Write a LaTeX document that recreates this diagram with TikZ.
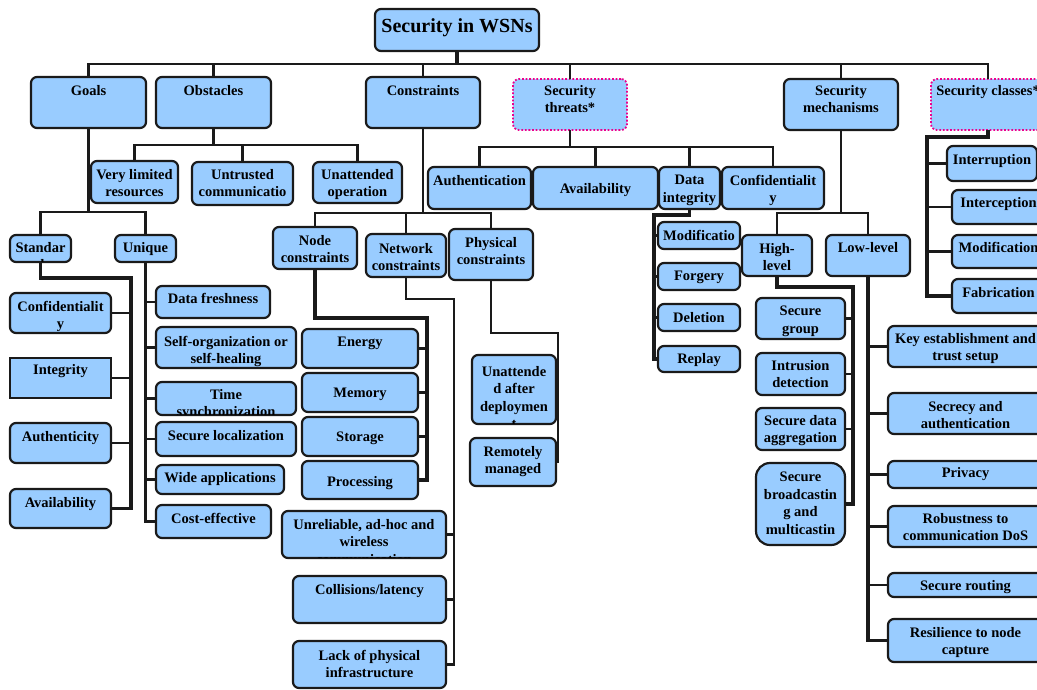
\documentclass[tikz,border=0pt]{standalone}
\usepackage{fontspec}
\setmainfont{Liberation Serif}
\usepackage{xcolor}
\usepackage{tikz}
\usetikzlibrary{fit,positioning}
\definecolor{boxblue}{HTML}{99CCFF}
\definecolor{edge}{HTML}{1A1A1A}

\begin{document}
\begin{tikzpicture}[x=1pt,y=-1pt,
    blk/.style={draw=edge,fill=boxblue,line width=2.2pt,rounded corners=6pt,inner sep=0pt,outer sep=0pt},
    sq/.style={blk,rounded corners=0pt},
    big/.style={blk,rounded corners=14pt},
    thr/.style={blk,draw=magenta,line width=1.8pt,dash pattern=on 1.8pt off 1.8pt},
    lbl/.style={font=\fontsize{14.5}{17.5}\selectfont\bfseries,align=center,inner sep=0pt,anchor=north,yshift=10pt},
    wire/.style={draw=edge,line width=2.4pt},
    trunk/.style={draw=edge,line width=3.4pt}]
      \useasboundingbox[fill=white] (0,0) rectangle (1037,689);

      \node[blk, fit={(375,9)(539,51)}] (root) {};
      \node[lbl, font=\fontsize{20}{24}\selectfont\bfseries, yshift=4pt] (root-t) at (root.north |- 0,32) {Security in WSNs};

      \foreach \n/\x/\y/\X/\Y/\ty/\st/\txt in {
        goals/31/77/146/128/95/blk/Goals,
        obst/156/77/271/128/95/blk/Obstacles,
        constr/366/77/480/128/95/blk/Constraints,
        threats/513/79/627/130/95/thr/{Security\\threats*},
        mech/784/79/898/130/95/blk/{Security\\mechanisms},
        classes/931/79/1045/130/95/thr/{Security classes*},
        vlr/91/161/178/203/179/blk/{Very limited\\resources},
        untr/192/162/293/205/179/blk/{Untrusted\\communicatio},
        unatt/313/162/402/203/179/blk/{Unattended\\operation},
        stdr/10/235/71/262/252/blk/{Standar\\d},
        uniq/115/235/176/262/252/blk/Unique,
        conf/10/293/111/333/311/blk/{Confidentialit\\y},
        integ/10/358/111/398/374/sq/Integrity,
        authc/10/423/111/463/441/blk/Authenticity,
        avail/10/489/111/528/507/blk/Availability,
        fresh/156/286/270/318/303/blk/{Data freshness},
        selfo/156/327/296/368/346/blk/{Self-organization or\\self-healing},
        tsync/156/382/296/415/399/blk/{Time\\synchronization},
        sloc/156/422/296/456/440/blk/{Secure localization},
        wide/156/465/284/494/482/blk/{Wide applications},
        cost/156/505/271/538/523/blk/Cost-effective,
        nodec/273/227/357/269/245/blk/{Node\\constraints},
        netc/366/234/446/277/253/blk/{Network\\constraints},
        physc/449/229/533/280/247/blk/{Physical\\constraints},
        energy/302/329/418/368/347/blk/Energy,
        memory/302/373/418/412/398/blk/Memory,
        storage/302/417/418/456/442/blk/Storage,
        proc/302/461/418/499/486/blk/Processing,
        unrel/282/511/446/558/529/blk/{Unreliable, ad-hoc and\\wireless\\communication},
        coll/293/576/446/623/594/blk/{Collisions/latency},
        lack/293/641/446/688/660/blk/{Lack of physical\\infrastructure},
        unatd/472/355/556/424/376/blk/{Unattende\\d after\\deploymen\\t},
        remote/470/438/556/486/456/blk/{Remotely\\managed},
        authn/428/167/531/209/185/blk/Authentication,
        availt/533/167/658/209/193/blk/Availability,
        dint/659/167/720/209/185/blk/{Data\\integrity},
        conft/722/167/824/209/185/blk/{Confidentialit\\y},
        modif/658/222/740/249/240/blk/Modificatio,
        forg/658/263/740/290/281/blk/Forgery,
        delet/658/304/740/331/322/blk/Deletion,
        replay/658/346/740/372/363/blk/Replay,
        high/742/235/812/276/253/blk/{High-\\level},
        low/826/235/910/276/252/blk/Low-level,
        sgroup/756/298/845/339/316/blk/{Secure\\group},
        intr/756/353/845/395/370/blk/{Intrusion\\detection},
        sagg/756/408/845/450/425/blk/{Secure data\\aggregation},
        sbm/756/463/845/545/482/big/{Secure\\broadcastin\\g and\\multicastin},
        key/888/326/1043/367/343/blk/{Key establishment and\\trust setup},
        secr/888/393/1043/434/411/blk/{Secrecy and\\authentication},
        priv/888/461/1043/488/477/blk/Privacy,
        robust/888/506/1043/547/523/blk/{Robustness to\\communication DoS},
        srout/888/573/1043/597/590/blk/{Secure routing},
        resil/888/619/1043/662/637/blk/{Resilience to node\\capture},
        intru/947/146/1037/181/164/blk/Interruption,
        intc/952/190/1045/224/207/blk/Interception,
        modc/952/235/1045/268/252/blk/Modification,
        fabr/952/279/1045/313/297/blk/Fabrication}
      {
        \node[\st, fit={(\x,\y)(\X,\Y)}] (\n) {};
        \begin{scope}
          \clip[rounded corners=5pt] ([shift={(1pt,1pt)}]\n.south west) rectangle ([shift={(-1pt,-1pt)}]\n.north east);
          \node[lbl] (\n-t) at (\n.north |- 0,\ty) {\txt};
        \end{scope}
      }

      \coordinate (bus) at (root.south |- 0,64);
      \draw[trunk] (root.south) -- (bus);
      \draw[wire] (goals.north) |- (bus) -| (classes.north);
      \foreach \n in {obst,constr,threats,mech}
        \draw[wire] (\n.north) -- (\n.north |- bus);

      \coordinate (goals-j) at (goals.south |- 0,212);
      \draw[wire] (goals.south) -- (goals-j);
      \foreach \c in {stdr,uniq}
        \draw[wire] (\c.north) |- (goals-j);

      \coordinate (obst-j) at (obst.south |- 0,145);
      \draw[wire] (obst.south) -- (obst-j);
      \foreach \c in {vlr,untr,unatt}
        \draw[wire] (\c.north) |- (obst-j);

      \coordinate (stdr-j) at (131,278);
      \draw[trunk] (stdr.south) |- (stdr-j) |- (avail.east);
      \foreach \c in {conf,integ,authc}
        \draw[wire] (\c.east) -- (\c.east -| stdr-j);

      \draw[wire] (uniq.south) |- (cost.west);
      \foreach \c in {fresh,selfo,tsync,sloc,wide}
        \draw[wire] (\c.west) -- (\c.west -| uniq.south);

      \coordinate (constr-j) at (constr.south |- 0,213);
      \draw[wire] (constr.south) -- (constr-j);
      \foreach \c in {nodec,netc,physc}
        \draw[wire] (\c.north) |- (constr-j);

      \coordinate (nodec-j) at (427,318);
      \draw[trunk] (nodec.south) |- (nodec-j) |- (proc.east);
      \foreach \c in {energy,memory,storage}
        \draw[wire] (\c.east) -- (\c.east -| nodec-j);

      \coordinate (netc-j) at (454,299);
      \draw[wire] (netc.south) |- (netc-j) |- (lack.east);
      \foreach \c in {unrel,coll}
        \draw[wire] (\c.east) -- (\c.east -| netc-j);

      \coordinate (physc-j) at (558,333);
      \draw[wire] (physc.south) |- (physc-j) |- (remote.east);
      \draw[wire] (unatd.east) -- (unatd.east -| physc-j);

      \coordinate (threats-j) at (threats.south |- 0,147);
      \draw[wire] (threats.south) -- (threats-j);
      \foreach \c in {authn,availt,dint,conft}
        \draw[wire] (\c.north) |- (threats-j);

      \coordinate (dint-j) at (654,215);
      \draw[trunk] (dint.south) |- (dint-j) |- (replay.west);
      \foreach \c in {modif,forg,delet}
        \draw[wire] (\c.west) -- (\c.west -| dint-j);

      \coordinate (mech-j) at (mech.south |- 0,213);
      \draw[wire] (mech.south) -- (mech-j);
      \foreach \c in {high,low}
        \draw[wire] (\c.north) |- (mech-j);

      \coordinate (high-j) at (853,287);
      \draw[trunk] (high.south) |- (high-j) |- (sbm.east);
      \foreach \c in {sgroup,intr,sagg}
        \draw[wire] (\c.east) -- (\c.east -| high-j);

      \draw[trunk] (low.south) |- (resil.west);
      \foreach \c in {key,secr,priv,robust,srout}
        \draw[wire] (\c.west) -- (\c.west -| low.south);

      \coordinate (classes-j) at (927,137);
      \draw[trunk] (classes.south) |- (classes-j) |- (fabr.west);
      \foreach \c in {intru,intc,modc}
        \draw[wire] (\c.west) -- (\c.west -| classes-j);
    \end{tikzpicture}
\end{document}
